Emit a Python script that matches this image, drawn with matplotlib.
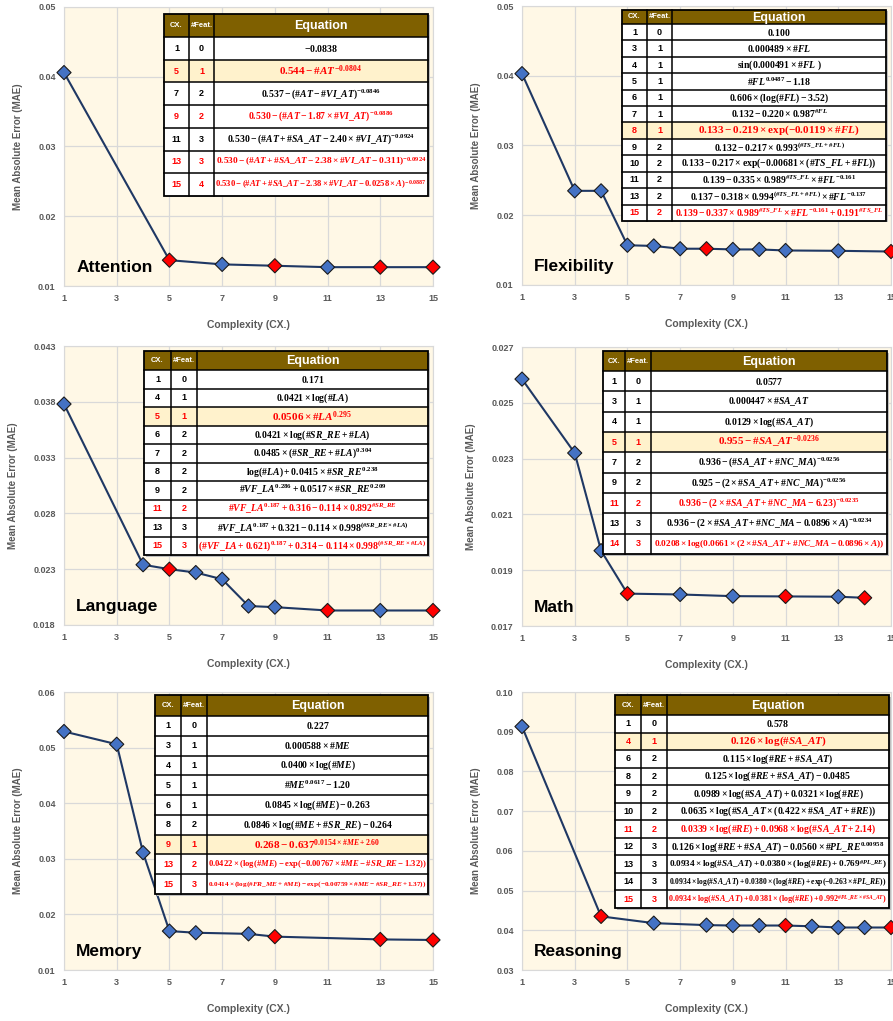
import numpy as np
import matplotlib
matplotlib.use("Agg")
import matplotlib.pyplot as plt
from matplotlib.patches import Rectangle

plt.rcParams['font.family'] = ['Liberation Sans', 'DejaVu Sans']
plt.rcParams['mathtext.fontset'] = 'custom'
plt.rcParams['mathtext.rm'] = 'Liberation Serif:bold'
plt.rcParams['mathtext.it'] = 'Liberation Serif:italic:bold'
plt.rcParams['mathtext.bf'] = 'Liberation Serif:bold'

# ---- data ----
# Attention
att_cx = [1, 5, 7, 9, 11, 13, 15]
att_nf = [0, 1, 2, 2, 3, 3, 4]
att_mae = [0.0406, 0.0137, 0.0131, 0.0129, 0.0127, 0.0127, 0.0127]
att_red = [5, 9, 13, 15]
att_best = 5
att_eq = [r"$-0.0838$",
          r"$0.544-\#AT^{-0.0804}$",
          r"$0.537-(\#AT-\#VI\_AT)^{-0.0846}$",
          r"$0.530-(\#AT-1.87\times\#VI\_AT)^{-0.0886}$",
          r"$0.530-(\#AT+\#SA\_AT-2.40\times\#VI\_AT)^{-0.0924}$",
          r"$0.530-(\#AT+\#SA\_AT-2.38\times\#VI\_AT-0.311)^{-0.0924}$",
          r"$0.530-(\#AT+\#SA\_AT-2.38\times\#VI\_AT-0.0258\times A)^{-0.0887}$"]

# Flexibility
flx_cx = [1, 3, 4, 5, 6, 7, 8, 9, 10, 11, 13, 15]
flx_nf = [0, 1, 1, 1, 1, 1, 1, 2, 2, 2, 2, 2]
flx_mae = [0.0403, 0.0235, 0.0235, 0.0157, 0.0156, 0.0152, 0.0152, 0.0151, 0.0151, 0.01495, 0.0149, 0.0148]
flx_red = [8, 15]
flx_best = 8
flx_eq = [r"$0.100$",
          r"$0.000489\times\#FL$",
          r"$\sin(0.000491\times\#FL\ )$",
          r"$\#FL^{0.0487}-1.18$",
          r"$0.606\times(\log(\#FL)-3.52)$",
          r"$0.132-0.220\times0.987^{\#FL}$",
          r"$0.133-0.219\times\exp(-0.0119\times\#FL)$",
          r"$0.132-0.217\times0.993^{(\#TS\_FL+\#FL)}$",
          r"$0.133-0.217\times\exp(-0.00681\times(\#TS\_FL+\#FL))$",
          r"$0.139-0.335\times0.989^{\#TS\_FL}\times\#FL^{-0.161}$",
          r"$0.137-0.318\times0.994^{(\#TS\_FL+\#FL)}\times\#FL^{-0.137}$",
          r"$0.139-0.337\times0.989^{\#TS\_FL}\times\#FL^{-0.161}+0.191^{\#TS\_FL}$"]

# Language
lan_cx = [1, 4, 5, 6, 7, 8, 9, 11, 13, 15]
lan_nf = [0, 1, 1, 2, 2, 2, 2, 2, 3, 3]
lan_mae = [0.0378, 0.0234, 0.0230, 0.0227, 0.0221, 0.0197, 0.0196, 0.0193, 0.0193, 0.0193]
lan_red = [5, 11, 15]
lan_best = 5
lan_eq = [r"$0.171$",
          r"$0.0421\times\log(\#LA)$",
          r"$0.0506\times\#LA^{0.295}$",
          r"$0.0421\times\log(\#SR\_RE+\#LA)$",
          r"$0.0485\times(\#SR\_RE+\#LA)^{0.304}$",
          r"$\log(\#LA)+0.0415\times\#SR\_RE^{0.238}$",
          r"$\#VF\_LA^{0.286}+0.0517\times\#SR\_RE^{0.209}$",
          r"$\#VF\_LA^{0.187}+0.316-0.114\times0.892^{\#SR\_RE}$",
          r"$\#VF\_LA^{0.187}+0.321-0.114\times0.998^{(\#SR\_RE\times\#LA)}$",
          r"$(\#VF\_LA+0.621)^{0.187}+0.314-0.114\times0.998^{(\#SR\_RE\times\#LA)}$"]

# Math
mat_cx = [1, 3, 4, 5, 7, 9, 11, 13, 14]
mat_nf = [0, 1, 1, 1, 2, 2, 2, 3, 3]
mat_mae = [0.02585, 0.0232, 0.0197, 0.01816, 0.01813, 0.01807, 0.01806, 0.01805, 0.01801]
mat_red = [5, 11, 14]
mat_best = 5
mat_eq = [r"$0.0577$",
          r"$0.000447\times\#SA\_AT$",
          r"$0.0129\times\log(\#SA\_AT)$",
          r"$0.955-\#SA\_AT^{-0.0236}$",
          r"$0.936-(\#SA\_AT+\#NC\_MA)^{-0.0256}$",
          r"$0.925-(2\times\#SA\_AT+\#NC\_MA)^{-0.0256}$",
          r"$0.936-(2\times\#SA\_AT+\#NC\_MA-6.23)^{-0.0235}$",
          r"$0.936-(2\times\#SA\_AT+\#NC\_MA-0.0896\times A)^{-0.0234}$",
          r"$0.0208\times\log(0.0661\times(2\times\#SA\_AT+\#NC\_MA-0.0896\times A))$"]

# Memory
mem_cx = [1, 3, 4, 5, 6, 8, 9, 13, 15]
mem_nf = [0, 1, 1, 1, 1, 2, 1, 2, 3]
mem_mae = [0.0529, 0.0506, 0.0311, 0.0170, 0.0167, 0.0165, 0.0160, 0.0155, 0.0154]
mem_red = [9, 13, 15]
mem_best = 9
mem_eq = [r"$0.227$",
          r"$0.000588\times\#ME$",
          r"$0.0400\times\log(\#ME)$",
          r"$\#ME^{0.0617}-1.20$",
          r"$0.0845\times\log(\#ME)-0.263$",
          r"$0.0846\times\log(\#ME+\#SR\_RE)-0.264$",
          r"$0.268-0.637^{0.0154\times\#ME+2.60}$",
          r"$0.0422\times(\log(\#ME)-\exp(-0.00767\times\#ME-\#SR\_RE-1.32))$",
          r"$0.0414\times(\log(\#FR\_ME+\#ME)-\exp(-0.00759\times\#ME-\#SR\_RE+1.37))$"]

# Reasoning
rea_cx = [1, 4, 6, 8, 9, 10, 11, 12, 13, 14, 15]
rea_nf = [0, 1, 2, 2, 2, 2, 2, 3, 3, 3, 3]
rea_mae = [0.0913, 0.0435, 0.0418, 0.0413, 0.0412, 0.0412, 0.0412, 0.0410, 0.0407, 0.0407, 0.0407]
rea_red = [4, 11, 15]
rea_best = 4
rea_eq = [r"$0.578$",
          r"$0.126\times\log(\#SA\_AT)$",
          r"$0.115\times\log(\#RE+\#SA\_AT)$",
          r"$0.125\times\log(\#RE+\#SA\_AT)-0.0485$",
          r"$0.0989\times\log(\#SA\_AT)+0.0321\times\log(\#RE)$",
          r"$0.0635\times\log(\#SA\_AT\times(0.422\times\#SA\_AT+\#RE))$",
          r"$0.0339\times\log(\#RE)+0.0968\times\log(\#SA\_AT+2.14)$",
          r"$0.126\times\log(\#RE+\#SA\_AT)-0.0560\times\#PL\_RE^{0.00958}$",
          r"$0.0934\times\log(\#SA\_AT)+0.0380\times(\log(\#RE)+0.769^{\#PL\_RE})$",
          r"$0.0934\times\log(\#SA\_AT)+0.0380\times(\log(\#RE)+\exp(-0.263\times\#PL\_RE))$",
          r"$0.0934\times\log(\#SA\_AT)+0.0381\times(\log(\#RE)+0.992^{\#PL\_RE\times\#SA\_AT})$"]

# ---- layout (pixels) ----
W, H = 893, 1021
panels = [
    # name, cx, nf, mae, red, best, eqs, axes box, y range, table box
    ("Attention", att_cx, att_nf, att_mae, att_red, att_best, att_eq,
     (64, 7, 433, 286), (0.01, 0.05, 0.01, 2), (164, 14, 428, 196, 23, 189, 214)),
    ("Flexibility", flx_cx, flx_nf, flx_mae, flx_red, flx_best, flx_eq,
     (522, 6, 891, 285), (0.01, 0.05, 0.01, 2), (622, 10, 886, 221, 14, 647, 672)),
    ("Language", lan_cx, lan_nf, lan_mae, lan_red, lan_best, lan_eq,
     (64, 346, 433, 625), (0.018, 0.043, 0.005, 3), (144, 351, 428, 555, 19, 171, 197)),
    ("Math", mat_cx, mat_nf, mat_mae, mat_red, mat_best, mat_eq,
     (522, 347, 891, 626), (0.017, 0.027, 0.002, 3), (603, 351, 887, 554, 20, 625, 651)),
    ("Memory", mem_cx, mem_nf, mem_mae, mem_red, mem_best, mem_eq,
     (64, 692, 433, 970), (0.01, 0.06, 0.01, 2), (155, 695, 428, 894, 21, 181, 207)),
    ("Reasoning", rea_cx, rea_nf, rea_mae, rea_red, rea_best, rea_eq,
     (522, 692, 891, 970), (0.03, 0.10, 0.01, 2), (615, 695, 889, 908, 20, 641, 667)),
]

grey = "#595959"
fig = plt.figure(figsize=(W / 100, H / 100), dpi=100)

for name, cx, nf, mae, red, best, eqs, box, yr, tb in panels:
    l, t, r, b = box
    ax = fig.add_axes([l / W, 1 - b / H, (r - l) / W, (b - t) / H])
    ax.set_facecolor("#FFF8E6")
    ax.plot(cx, mae, color="#1F3864", lw=1.5, zorder=3, clip_on=False)
    cols = ["#FF0000" if c in red else "#4472C4" for c in cx]
    ax.scatter(cx, mae, marker="D", s=52, c=cols, edgecolors="#1a1a1a",
               linewidths=0.8, zorder=4, clip_on=False)
    ax.set_xlim(1, 15)
    ax.set_xticks(range(1, 16, 2))
    ymin, ymax, ystep, dec = yr
    ax.set_ylim(ymin, ymax)
    yt = np.arange(ymin, ymax + ystep / 2, ystep)
    ax.set_yticks(yt)
    ax.set_yticklabels([f"{v:.{dec}f}" for v in yt])
    ax.grid(True, color="#D9D9D9", lw=0.9)
    ax.set_axisbelow(True)
    for s in ax.spines.values():
        s.set_color("#D9D9D9")
    ax.tick_params(length=0, labelsize=6.5, labelcolor=grey, pad=6)
    for lab in ax.get_xticklabels() + ax.get_yticklabels():
        lab.set_fontweight("bold")
    ax.set_xlabel("Complexity (CX.)", fontsize=7.5, fontweight="bold", color=grey, labelpad=12)
    ax.set_ylabel("Mean Absolute Error (MAE)", fontsize=7, fontweight="bold", color=grey, labelpad=11)
    ax.text(0.033, 0.05, name, transform=ax.transAxes, fontsize=12.5,
            fontweight="bold", color="black", va="baseline", zorder=5)

# ---- tables on an overlay ----
ov = fig.add_axes([0, 0, 1, 1])
ov.set_xlim(0, W)
ov.set_ylim(H, 0)
ov.axis("off")
renderer = fig.canvas.get_renderer()


def fit(txt, avail):
    w = txt.get_window_extent(renderer).width
    if w > avail:
        txt.set_fontsize(txt.get_fontsize() * avail / w)


for name, cx, nf, mae, red, best, eqs, box, yr, tb in panels:
    x0, y0, x1, y1, hh, c1, c2 = tb
    n = len(cx)
    rh = (y1 - y0 - hh) / n
    ov.add_patch(Rectangle((x0 + 1.5, y0 + 1.5), x1 - x0, y1 - y0, fc="#BFBFBF", ec="none", zorder=1))
    ov.add_patch(Rectangle((x0, y0), x1 - x0, hh, fc="#7F6000", ec="none", zorder=2))
    ov.text((x0 + c1) / 2, y0 + hh / 2, "CX.", color="white", fontsize=5.5, fontweight="bold",
            ha="center", va="center", zorder=5)
    tf = ov.text((c1 + c2) / 2, y0 + hh / 2, "#Feat.", color="white", fontsize=5.5, fontweight="bold",
                 ha="center", va="center", zorder=5)
    fit(tf, c2 - c1 - 1)
    ov.text((c2 + x1) / 2, y0 + hh / 2 + 0.5, "Equation", color="white", fontsize=9, fontweight="bold",
            ha="center", va="center", zorder=5)
    for i in range(n):
        ry = y0 + hh + i * rh
        fc = "#FFF2CC" if cx[i] == best else "white"
        ov.add_patch(Rectangle((x0, ry), x1 - x0, rh, fc=fc, ec="none", zorder=2))
        col = "#FF0000" if cx[i] in red else "black"
        yc = ry + rh / 2
        ov.text((x0 + c1) / 2, yc, str(cx[i]), color=col, fontsize=6.5, fontweight="bold",
                ha="center", va="center", zorder=5)
        ov.text((c1 + c2) / 2, yc, str(nf[i]), color=col, fontsize=6.5, fontweight="bold",
                ha="center", va="center", zorder=5)
        fs = 8 if cx[i] == best else 7
        # mathtext has no \# escape, so the hash sign goes in as \text{#}
        te = ov.text((c2 + x1) / 2, yc, eqs[i].replace(r"\#", r"\text{#}"), color=col, fontsize=fs,
                     ha="center", va="center", zorder=5)
        fit(te, x1 - c2 - 3)
        ov.plot([x0, x1], [ry, ry], color="black", lw=1.1, zorder=4)
    ov.plot([c1, c1], [y0, y1], color="black", lw=1.1, zorder=4)
    ov.plot([c2, c2], [y0, y1], color="black", lw=1.1, zorder=4)
    ov.add_patch(Rectangle((x0, y0), x1 - x0, y1 - y0, fc="none", ec="black", lw=1.3, zorder=4))

fig.savefig("out.png", dpi=100)
